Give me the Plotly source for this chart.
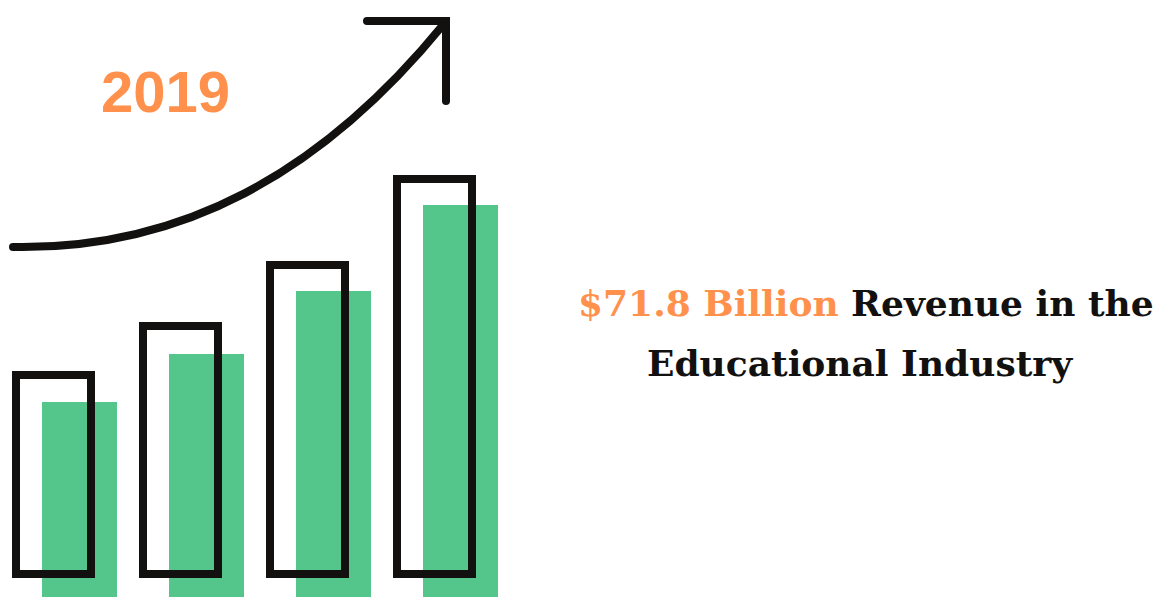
import plotly.graph_objects as go

# ---------------- data ----------------
categories = ["Q1", "Q2", "Q3", "Q4"]
growth_values = [195, 243, 306, 392]     # filled green bars
outline_values = [199, 248, 309, 395]    # black outlined bars (height above their base)
year_label = "2019"
headline_value = "$71.8 Billion"
headline_rest = "Revenue in the"
headline_line2 = "Educational Industry"

# ---------------- style ----------------
PAGE_OFF = 8            # browser body margin
W, H = 1163 - PAGE_OFF, 597 - PAGE_OFF
ORANGE = "#FF914D"
GREEN = "#54C58B"
INK = "#121110"
SLOT = 127.0            # px between bar centres
FIRST_CENTER = 53.5 - PAGE_OFF
BAR_W = 75.0 / SLOT
GREEN_SHIFT = 26.0 / SLOT
OUTLINE_BASE = 23


def px(x):
    return (x - PAGE_OFF) / W


def py(y):
    return 1 - (y - PAGE_OFF) / H


fig = go.Figure()

fig.add_trace(go.Bar(
    x=categories, y=growth_values,
    width=BAR_W, offset=GREEN_SHIFT - BAR_W / 2,
    marker=dict(color=GREEN, line=dict(width=0)),
    hoverinfo="skip", showlegend=False,
))

fig.add_trace(go.Bar(
    x=categories, y=outline_values, base=OUTLINE_BASE,
    width=BAR_W,
    marker=dict(color="rgba(0,0,0,0)", line=dict(color=INK, width=8)),
    hoverinfo="skip", showlegend=False,
))

x0 = -FIRST_CENTER / SLOT
fig.update_xaxes(type="category", range=[x0, x0 + W / SLOT], visible=False, fixedrange=True)
fig.update_yaxes(range=[0, H], visible=False, fixedrange=True)

# growth arrow (decoration)
curve = (f"M {px(13)},{py(247)} C {px(180)},{py(250)} {px(320)},{py(175)} {px(443)},{py(25)}")
head = f"M {px(367)},{py(21)} L {px(446)},{py(21)} L {px(446)},{py(101)}"
for path in (curve, head):
    fig.add_shape(type="path", path=path, xref="paper", yref="paper",
                  line=dict(color=INK, width=8), fillcolor="rgba(0,0,0,0)")
for (cx, cy) in [(13, 247), (367, 21), (446, 101)]:
    r = 4
    fig.add_shape(type="circle", xref="paper", yref="paper",
                  x0=px(cx - r), x1=px(cx + r), y0=py(cy + r), y1=py(cy - r),
                  fillcolor=INK, line=dict(width=0))

fig.add_annotation(
    text=year_label, x=px(165), y=py(91), xref="paper", yref="paper",
    xanchor="center", yanchor="middle", showarrow=False,
    font=dict(family="Liberation Sans", size=58, color=ORANGE, weight="bold"),
)

head_font = dict(family="DejaVu Serif", size=36, color=INK, weight="bold")
fig.add_annotation(
    text=f"<span style='color:{ORANGE}'>{headline_value}</span> {headline_rest}",
    x=px(866), y=py(303), xref="paper", yref="paper",
    xanchor="center", yanchor="middle", showarrow=False, font=head_font,
)
fig.add_annotation(
    text=headline_line2,
    x=px(860), y=py(363), xref="paper", yref="paper",
    xanchor="center", yanchor="middle", showarrow=False, font=head_font,
)

fig.update_layout(
    width=W, height=H,
    margin=dict(l=0, r=0, t=0, b=0),
    paper_bgcolor="white", plot_bgcolor="white",
    barmode="overlay", bargap=0,
    showlegend=False,
)

fig.write_html("out.html", config={"displayModeBar": False})
